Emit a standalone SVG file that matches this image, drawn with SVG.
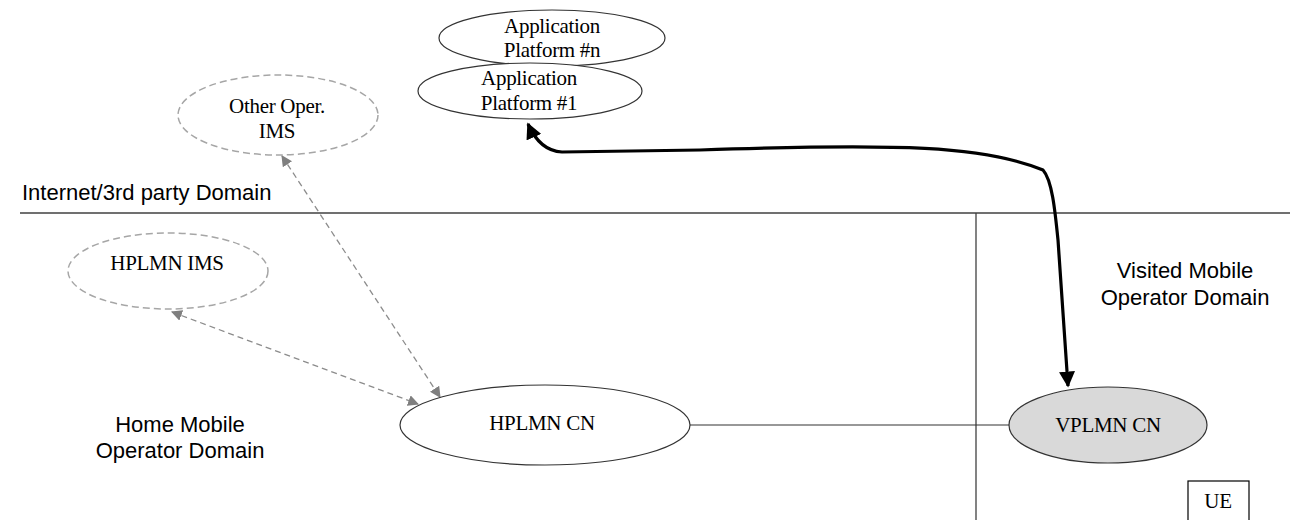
<svg xmlns="http://www.w3.org/2000/svg" width="1290" height="520" viewBox="0 0 1290 520">
<defs>
<style>
.serif{font-family:"Liberation Serif","Times New Roman",serif;font-size:21px;fill:#000;text-anchor:middle;letter-spacing:-0.3px}
.sans{font-family:"Liberation Sans",Arial,sans-serif;font-size:22px;fill:#000}
.node{fill:#fff;stroke:#333;stroke-width:1.2}
.dnode{fill:#fff;stroke:#a6a6a6;stroke-width:1.5;stroke-dasharray:7,4}
.dash{fill:none;stroke:#8c8c8c;stroke-width:1.3;stroke-dasharray:6,4}
.boundary{stroke:#404040;stroke-width:1.3;fill:none}
</style>
<marker id="ga" viewBox="0 0 10 10" refX="9" refY="5" markerWidth="11" markerHeight="11" markerUnits="userSpaceOnUse" orient="auto-start-reverse">
<path d="M0,0 L10,5 L0,10 z" fill="#7f7f7f"/>
</marker>
<marker id="ba" viewBox="0 0 10 10" refX="9" refY="5" markerWidth="5" markerHeight="5" orient="auto-start-reverse">
<path d="M0,0 L10,5 L0,10 z" fill="#000"/>
</marker>
</defs>
<rect width="1290" height="520" fill="#fff"/>

<g id="boundaries">
<line class="boundary" x1="20" y1="213" x2="1290" y2="213"/>
<line class="boundary" x1="976" y1="213" x2="976" y2="520"/>
</g>

<g id="labels">
<text class="sans" x="22" y="200">Internet/3rd party  Domain</text>
<text class="sans" x="180" y="432" text-anchor="middle">Home Mobile</text>
<text class="sans" x="180" y="458" text-anchor="middle">Operator Domain</text>
<text class="sans" x="1185" y="278" text-anchor="middle">Visited Mobile</text>
<text class="sans" x="1185" y="305" text-anchor="middle">Operator Domain</text>
</g>

<g id="connectors">
<line x1="690" y1="425" x2="1009" y2="425" stroke="#333" stroke-width="1.2"/>
<line class="dash" x1="282" y1="156" x2="440" y2="397" marker-start="url(#ga)" marker-end="url(#ga)"/>
<line class="dash" x1="172" y1="312" x2="418" y2="404" marker-start="url(#ga)" marker-end="url(#ga)"/>
<path d="M528,124 Q540,151 562,152 L700,150 C900,143 985,146 1043,170 C1052,180 1055,210 1058,240 L1068,386" fill="none" stroke="#000" stroke-width="3.2" marker-start="url(#ba)" marker-end="url(#ba)"/>
</g>

<g id="app-n">
<ellipse class="node" cx="552" cy="38" rx="113" ry="28"/>
<text class="serif" x="552" y="33">Application</text>
<text class="serif" x="552" y="57">Platform #n</text>
</g>

<g id="app-1">
<ellipse class="node" cx="530" cy="91" rx="112" ry="28"/>
<text class="serif" x="529" y="85">Application</text>
<text class="serif" x="529" y="110">Platform #1</text>
</g>

<g id="other-ims">
<ellipse class="dnode" cx="278" cy="115" rx="100" ry="40"/>
<text class="serif" x="277" y="113">Other Oper.</text>
<text class="serif" x="277" y="138">IMS</text>
</g>

<g id="hplmn-ims">
<ellipse class="dnode" cx="168" cy="271" rx="100" ry="38"/>
<text class="serif" x="167" y="270">HPLMN IMS</text>
</g>

<g id="hplmn-cn">
<ellipse class="node" cx="545" cy="425" rx="145" ry="40"/>
<text class="serif" x="542" y="430">HPLMN CN</text>
</g>

<g id="vplmn-cn">
<ellipse cx="1108" cy="425" rx="99" ry="38" fill="#d9d9d9" stroke="#333" stroke-width="1.2"/>
<text class="serif" x="1108" y="432">VPLMN CN</text>
</g>

<g id="ue">
<rect x="1188" y="481" width="61" height="45" fill="#fff" stroke="#000" stroke-width="1.2"/>
<text class="serif" x="1218" y="508">UE</text>
</g>
</svg>
